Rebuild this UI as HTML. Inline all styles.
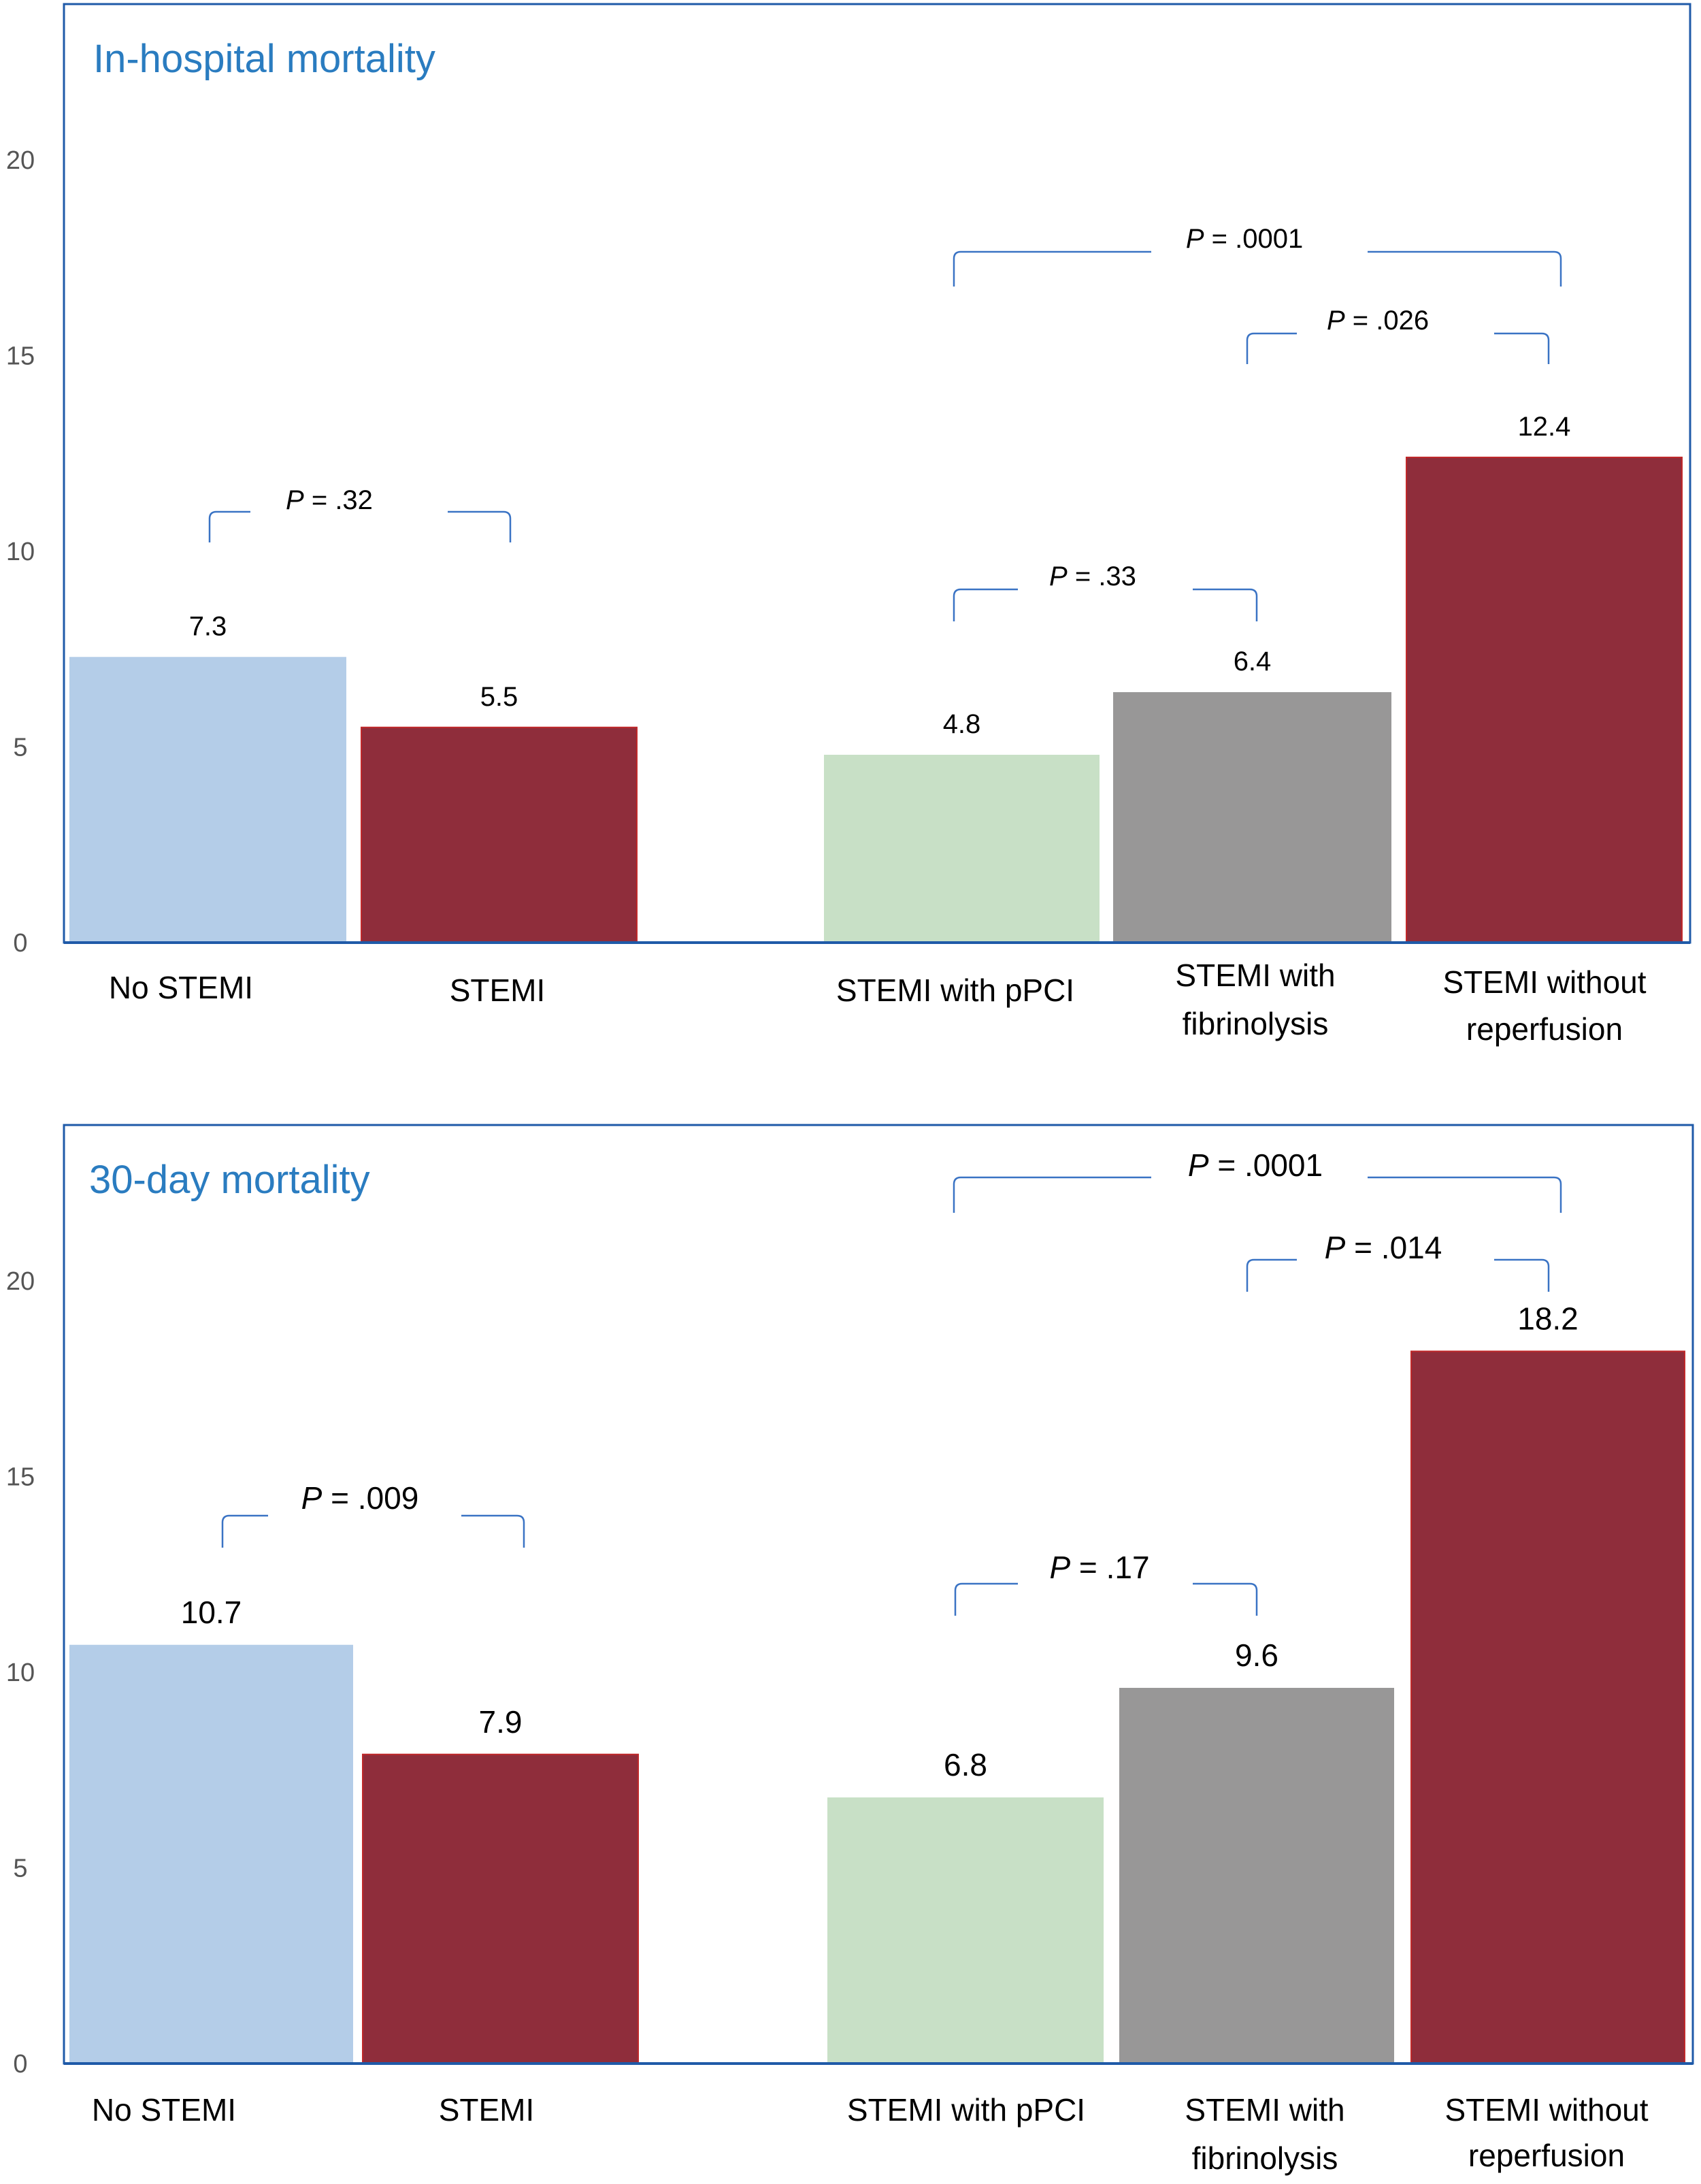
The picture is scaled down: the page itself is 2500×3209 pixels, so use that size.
<!DOCTYPE html>
<html><head><meta charset="utf-8"><style>
html,body{margin:0;padding:0;background:#fff}
svg{display:block}
text{font-family:"Liberation Sans",Arial,sans-serif}
</style></head>
<body>
<svg id="chart" width="2500" height="3209" viewBox="0 0 2500 3209" xmlns="http://www.w3.org/2000/svg"></svg>
<script>
const categories = ["No STEMI","STEMI","STEMI with pPCI","STEMI with fibrinolysis","STEMI without reperfusion"];
const inHospitalValues = [7.3, 5.5, 4.8, 6.4, 12.4];
const thirtyDayValues = [10.7, 7.9, 6.8, 9.6, 18.2];
const valueLabelsTop = ["7.3","5.5","4.8","6.4","12.4"];
const valueLabelsBottom = ["10.7","7.9","6.8","9.6","18.2"];
const yTicks = [0, 5, 10, 15, 20];
const barColors = ["#b4cde8","#8f2d3b","#c8e0c6","#989797","#8f2d3b"];

const NS = "http://www.w3.org/2000/svg";
const svg = document.getElementById("chart");
function mk(tag, attrs, parent){
  const e = document.createElementNS(NS, tag);
  for (const k in attrs) e.setAttribute(k, attrs[k]);
  (parent||svg).appendChild(e);
  return e;
}

const panels = [
  {name:"in-hospital", title:"In-hospital mortality", titleX:137, titleY:106, frameTop:6, frameRight:2484, base:1385,
   values:inHospitalValues, labels:valueLabelsTop, valFont:40, pFont:40,
   bars:[[102,509],[531,936],[1211,1616],[1636,2045],[2067,2472]],
   cats:[[266,[1467]],[731,[1471]],[1404,[1471]],[1845,[1449,1520]],[2270,[1459,1528]]],
   brackets:[
     {p:".32", x1:308,x2:750,y:752,b:797,g1:368,g2:658,lx:484,ly:748},
     {p:".33", x1:1402,x2:1847,y:866,b:913,g1:1496,g2:1753,lx:1606,ly:860},
     {p:".0001", x1:1402,x2:2294,y:370,b:421,g1:1692,g2:2010,lx:1829,ly:364},
     {p:".026", x1:1833,x2:2276,y:490,b:535,g1:1906,g2:2196,lx:2025,ly:484}
   ]},
  {name:"thirty-day", title:"30-day mortality", titleX:131, titleY:1753, frameTop:1653, frameRight:2488, base:3032,
   values:thirtyDayValues, labels:valueLabelsBottom, valFont:46, pFont:46,
   bars:[[102,519],[533,938],[1216,1622],[1645,2049],[2074,2476]],
   cats:[[241,[3116]],[715,[3116]],[1420,[3116]],[1859,[3116,3187]],[2273,[3116,3183]]],
   brackets:[
     {p:".0001", x1:1402,x2:2294,y:1730,b:1782,g1:1692,g2:2010,lx:1845,ly:1728},
     {p:".014", x1:1833,x2:2276,y:1851,b:1898,g1:1906,g2:2196,lx:2033,ly:1849},
     {p:".009", x1:327,x2:770,y:2227,b:2274,g1:394,g2:678,lx:529,ly:2217},
     {p:".17", x1:1404,x2:1847,y:2327,b:2374,g1:1496,g2:1753,lx:1616,ly:2319}
   ]}
];
const unitPx = 57.5;
const catLines = [["No STEMI"],["STEMI"],["STEMI with pPCI"],["STEMI with","fibrinolysis"],["STEMI without","reperfusion"]];

panels.forEach(pn => {
  const g = mk("g", {});
  
  
  const yScale = v => pn.base - v * unitPx;
  const fr = mk("rect", {x:94, y:pn.frameTop, width:pn.frameRight-94, height:pn.base-pn.frameTop, fill:"none", stroke:"#1f5aa8", "stroke-width":3}, g);
  
  
  const t = mk("text", {x:pn.titleX, y:pn.titleY, fill:"#2a7cc0", "font-size":58, "font-weight":"500"}, g);
  t.textContent = pn.title;
  
  
  yTicks.forEach(v => {
    const tt = mk("text", {x:30, y:yScale(v)+13, fill:"#555", "font-size":38, "font-weight":"500", "text-anchor":"middle"}, g);
    tt.textContent = v;
    
    
  });
  pn.values.forEach((v, i) => {
    const [a, b] = pn.bars[i];
    const r = mk("rect", {x:a, y:yScale(v), width:b-a, height:v*unitPx, fill:barColors[i], stroke:(barColors[i]=="#8f2d3b"?"#c0282a":"none"), "stroke-width":2}, g);
    
    
    const vl = mk("text", {x:(a+b)/2, y:yScale(v)-32, fill:"#000", "font-size":pn.valFont, "text-anchor":"middle"}, g);
    vl.textContent = pn.labels[i];
    
    
    const [cx, ys] = pn.cats[i];
    catLines[i].forEach((ln, j) => {
      const cl = mk("text", {x:cx, y:ys[j], fill:"#000", "font-size":46, "text-anchor":"middle"}, g);
      cl.textContent = ln;
      
      
    });
  });
  const ax = mk("line", {x1:94, x2:pn.frameRight, y1:pn.base, y2:pn.base, stroke:"#1f5aa8", "stroke-width":4}, g);
  
  
  pn.brackets.forEach(br => {
    const r = 10;
    const d = `M${br.x1},${br.b} L${br.x1},${br.y+r} Q${br.x1},${br.y} ${br.x1+r},${br.y} L${br.g1},${br.y} M${br.g2},${br.y} L${br.x2-r},${br.y} Q${br.x2},${br.y} ${br.x2},${br.y+r} L${br.x2},${br.b}`;
    const pth = mk("path", {d:d, fill:"none", stroke:"#3a73c4", "stroke-width":2.5}, g);
    
    
    const lt = mk("text", {x:br.lx, y:br.ly, fill:"#000", "font-size":pn.pFont, "text-anchor":"middle"}, g);
    const ts = mk("tspan", {"font-style":"italic"}, lt);
    ts.textContent = "P";
    lt.appendChild(document.createTextNode(" = " + br.p));
    
    
  });
});
</script>
</body></html>
